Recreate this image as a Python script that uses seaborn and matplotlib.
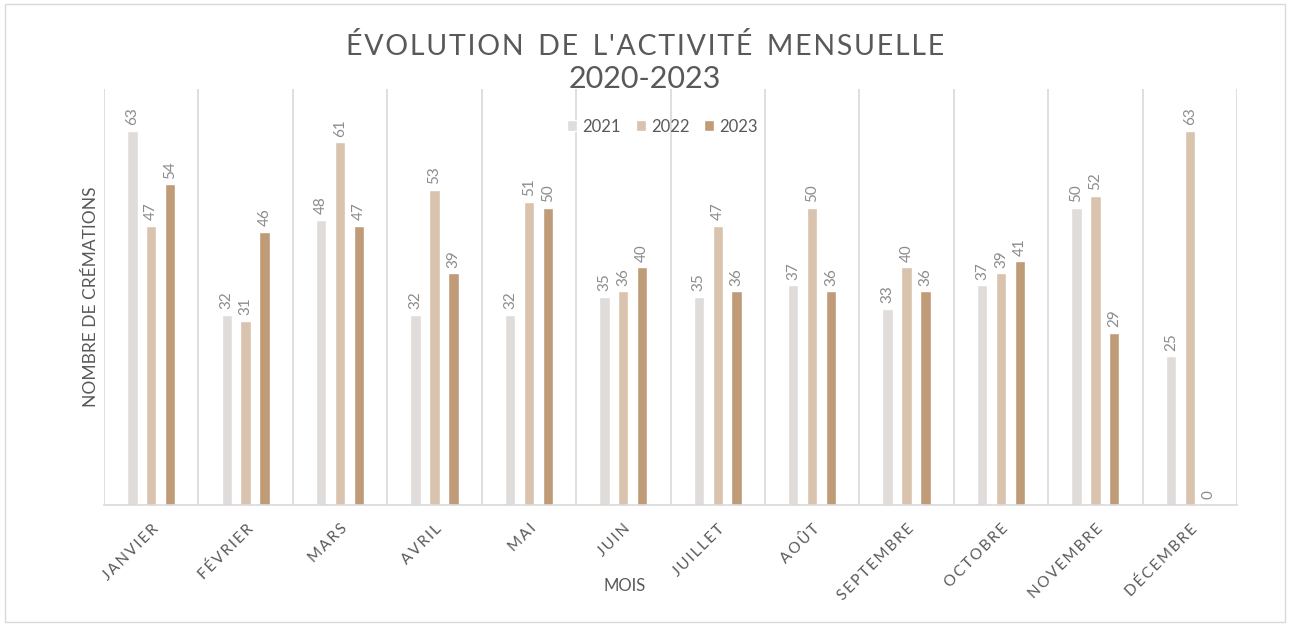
import numpy as np
import pandas as pd
import matplotlib
matplotlib.use("Agg")
import matplotlib.pyplot as plt
from matplotlib.patches import Rectangle
import seaborn as sns

# --- data ---
mois = ["JANVIER", "FÉVRIER", "MARS", "AVRIL", "MAI", "JUIN",
        "JUILLET", "AOÛT", "SEPTEMBRE", "OCTOBRE", "NOVEMBRE", "DÉCEMBRE"]
annees = ["2021", "2022", "2023"]
v2021 = [63, 32, 48, 32, 32, 35, 35, 37, 33, 37, 50, 25]
v2022 = [47, 31, 61, 53, 51, 36, 47, 50, 40, 39, 52, 63]
v2023 = [54, 46, 47, 39, 50, 40, 36, 36, 36, 41, 29, 0]
couleurs = ["#E0DCDA", "#D9C3AE", "#BF9B77"]

df = pd.DataFrame({
    "Mois": mois * 3,
    "Année": [a for a in annees for _ in mois],
    "Valeur": v2021 + v2022 + v2023,
})

sns.set_style("white")
plt.rcParams["font.family"] = ["Lato", "DejaVu Sans"]
gris = "#595959"

fig = plt.figure(figsize=(12.9, 6.26), dpi=100)
ax = fig.add_axes([104 / 1290, 1 - 505 / 626, (1237 - 104) / 1290, (505 - 89) / 626])

sns.barplot(data=df, x="Mois", y="Valeur", hue="Année", order=mois,
            hue_order=annees, palette=couleurs, width=0.6, gap=0.45,
            saturation=1, ax=ax, legend=True)

# data labels
for cont in ax.containers:
    ax.bar_label(cont, fmt="%d", rotation=90, padding=4, fontsize=11, color="#8C8C8C")

ax.set_ylim(0, 70)
ax.set_xlim(-0.5, len(mois) - 0.5)
ax.set_yticks([])

# vertical separators between months
ax.set_xticks(np.arange(-0.5, len(mois)), minor=True)
ax.grid(True, which="minor", axis="x", color="#D9D9D9", linewidth=1.2)
ax.grid(False, which="major")
ax.tick_params(axis="x", which="both", length=0)

for s in ["top", "left", "right"]:
    ax.spines[s].set_visible(False)
ax.spines["bottom"].set_color("#D9D9D9")
ax.spines["bottom"].set_linewidth(1.2)

spaced = ["\u2009".join(m) for m in mois]
ax.set_xticks(range(len(mois)))
ax.set_xticklabels(spaced, rotation=45, ha="right", rotation_mode="anchor",
                   fontsize=11, color=gris)
ax.tick_params(axis="x", pad=12)

ax.set_xlabel("MOIS", fontsize=12, color=gris)
ax.xaxis.set_label_coords((625 - 104) / (1237 - 104), -0.175)
ax.set_ylabel("NOMBRE DE CRÉMATIONS", fontsize=12.5, color=gris)
ax.yaxis.set_label_coords(-0.004, 0.5)

leg = ax.legend(loc="upper center", bbox_to_anchor=(0.493, 0.965), ncol=3,
                frameon=False, fontsize=12, handlelength=0.6, handleheight=0.6,
                handletextpad=0.3, columnspacing=0.9)
for t in leg.get_texts():
    t.set_color(gris)

titre = "  ".join("\u200a".join(w) for w in "ÉVOLUTION DE L'ACTIVITÉ MENSUELLE".split())
fig.text(0.5, 0.926, titre, ha="center", va="center", fontsize=20.5, color=gris)
fig.text(0.5, 0.874, "2020-2023", ha="center", va="center", fontsize=22, color=gris)

fig.patches.append(Rectangle((0.004, 0.006), 0.992, 0.988, transform=fig.transFigure,
                             fill=False, edgecolor="#D9D9D9", linewidth=1))

fig.savefig("out.png", dpi=100)
